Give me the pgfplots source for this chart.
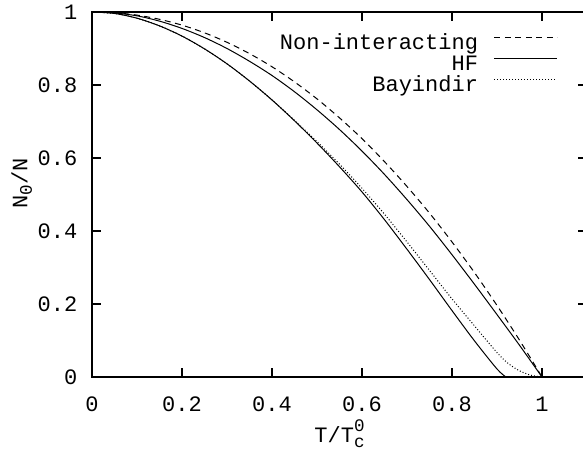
\documentclass[border=0pt]{standalone}
\usepackage{pgfplots}
\pgfplotsset{compat=1.18}
\usepackage{fontspec}
\setmainfont{Liberation Mono}
\newcommand\fs{\fontsize{11}{13}\selectfont}
\newcommand\lsub[1]{\raisebox{-2.2pt}{\fontsize{8.8}{10}\selectfont #1}}
\newcommand\lsup[1]{\raisebox{5.5pt}{\fontsize{8.8}{10}\selectfont #1}}

\pgfplotstableread{
t v
0 1
0.05 0.998
0.1 0.9915
0.15 0.980
0.2 0.964
0.25 0.943
0.3 0.917
0.35 0.886
0.4 0.850
0.45 0.8085
0.5 0.762
0.55 0.710
0.6 0.653
0.65 0.590
0.7 0.522
0.75 0.449
0.8 0.370
0.85 0.286
0.9 0.196
0.95 0.101
1 0
}\nonint

\pgfplotstableread{
t v
0 1
0.05 0.9975
0.1 0.9895
0.15 0.975
0.2 0.955
0.25 0.930
0.3 0.900
0.35 0.865
0.4 0.826
0.45 0.7815
0.5 0.732
0.55 0.678
0.6 0.619
0.65 0.555
0.7 0.486
0.75 0.413
0.8 0.335
0.85 0.254
0.9 0.171
0.95 0.087
1 0
}\hfa

\pgfplotstableread{
t v
0 1
0.05 0.996
0.1 0.983
0.15 0.962
0.2 0.934
0.25 0.899
0.3 0.858
0.35 0.811
0.4 0.759
0.45 0.702
0.5 0.641
0.55 0.576
0.6 0.507
0.65 0.431
0.7 0.350
0.75 0.267
0.8 0.182
0.85 0.099
0.9 0.022
0.92 0
}\hfb

\pgfplotstableread{
t v
0 1
0.05 0.996
0.1 0.983
0.15 0.962
0.2 0.934
0.25 0.899
0.3 0.858
0.35 0.811
0.4 0.759
0.45 0.703
0.5 0.645
0.55 0.583
0.6 0.517
0.65 0.446
0.7 0.370
0.75 0.292
0.8 0.214
0.85 0.140
0.9 0.067
0.925 0.037
0.95 0.017
0.975 0.005
1 0
}\bay

\begin{document}
\begin{tikzpicture}
\begin{axis}[
  scale only axis, width=247.5pt, height=182.5pt,
  xmin=0, xmax=1.1, ymin=0, ymax=1,
  xtick={0,0.2,0.4,0.6,0.8,1}, xticklabels={0,0.2,0.4,0.6,0.8,1},
  ytick={0,0.2,0.4,0.6,0.8,1}, yticklabels={0,0.2,0.4,0.6,0.8,1},
  tick align=inside, major tick length=4.5pt,
  axis line style={line width=0.6pt},
  tick style={line width=0.6pt, black},
  tick label style={font=\fs},
  xticklabel shift=6.3pt, yticklabel shift=3.8pt,
  xlabel={T/T\rlap{\lsub{c}}\lsup{0}},
  ylabel={N\lsub{0}/N},
  xlabel style={font=\fs, at={(axis description cs:0.5,-0.18)}, anchor=base},
  ylabel style={font=\fs, at={(axis description cs:-0.142,0.53)}, anchor=center},
  legend plot pos=right, legend cell align=right,
  legend image code/.code={\draw[#1] (0pt,4pt) -- (31.5pt,4pt);},
  legend style={draw=none, fill=none, font=\fs,
    at={(rel axis cs:0.9414,0.937)}, anchor=north east,
    inner sep=0pt, outer sep=0pt, row sep=0pt, column sep=8pt,
    nodes={inner sep=0pt, text height=7.5pt, text depth=3pt}},
]
\addplot[black, line width=0.5pt, dash pattern=on 3pt off 2.25pt, smooth] table[x=t,y=v] {\nonint};
\addlegendentry{Non-interacting}
\addplot[black, line width=0.5pt, smooth] table[x=t,y=v] {\hfa};
\addlegendentry{HF}
\addplot[black, line width=0.5pt, smooth, forget plot] table[x=t,y=v] {\hfb};
\addplot[black, line width=0.5pt, dash pattern=on 0.5pt off 1pt, smooth] table[x=t,y=v] {\bay};
\addlegendentry{Bayindir}
\end{axis}
\pgfresetboundingbox
\path (current axis.south west) ++(-46pt,-37pt) coordinate (bl);
\path (current axis.south west) ++(245.5pt,188.5pt) coordinate (tr);
\useasboundingbox (bl) rectangle (tr);
\end{tikzpicture}
\end{document}
